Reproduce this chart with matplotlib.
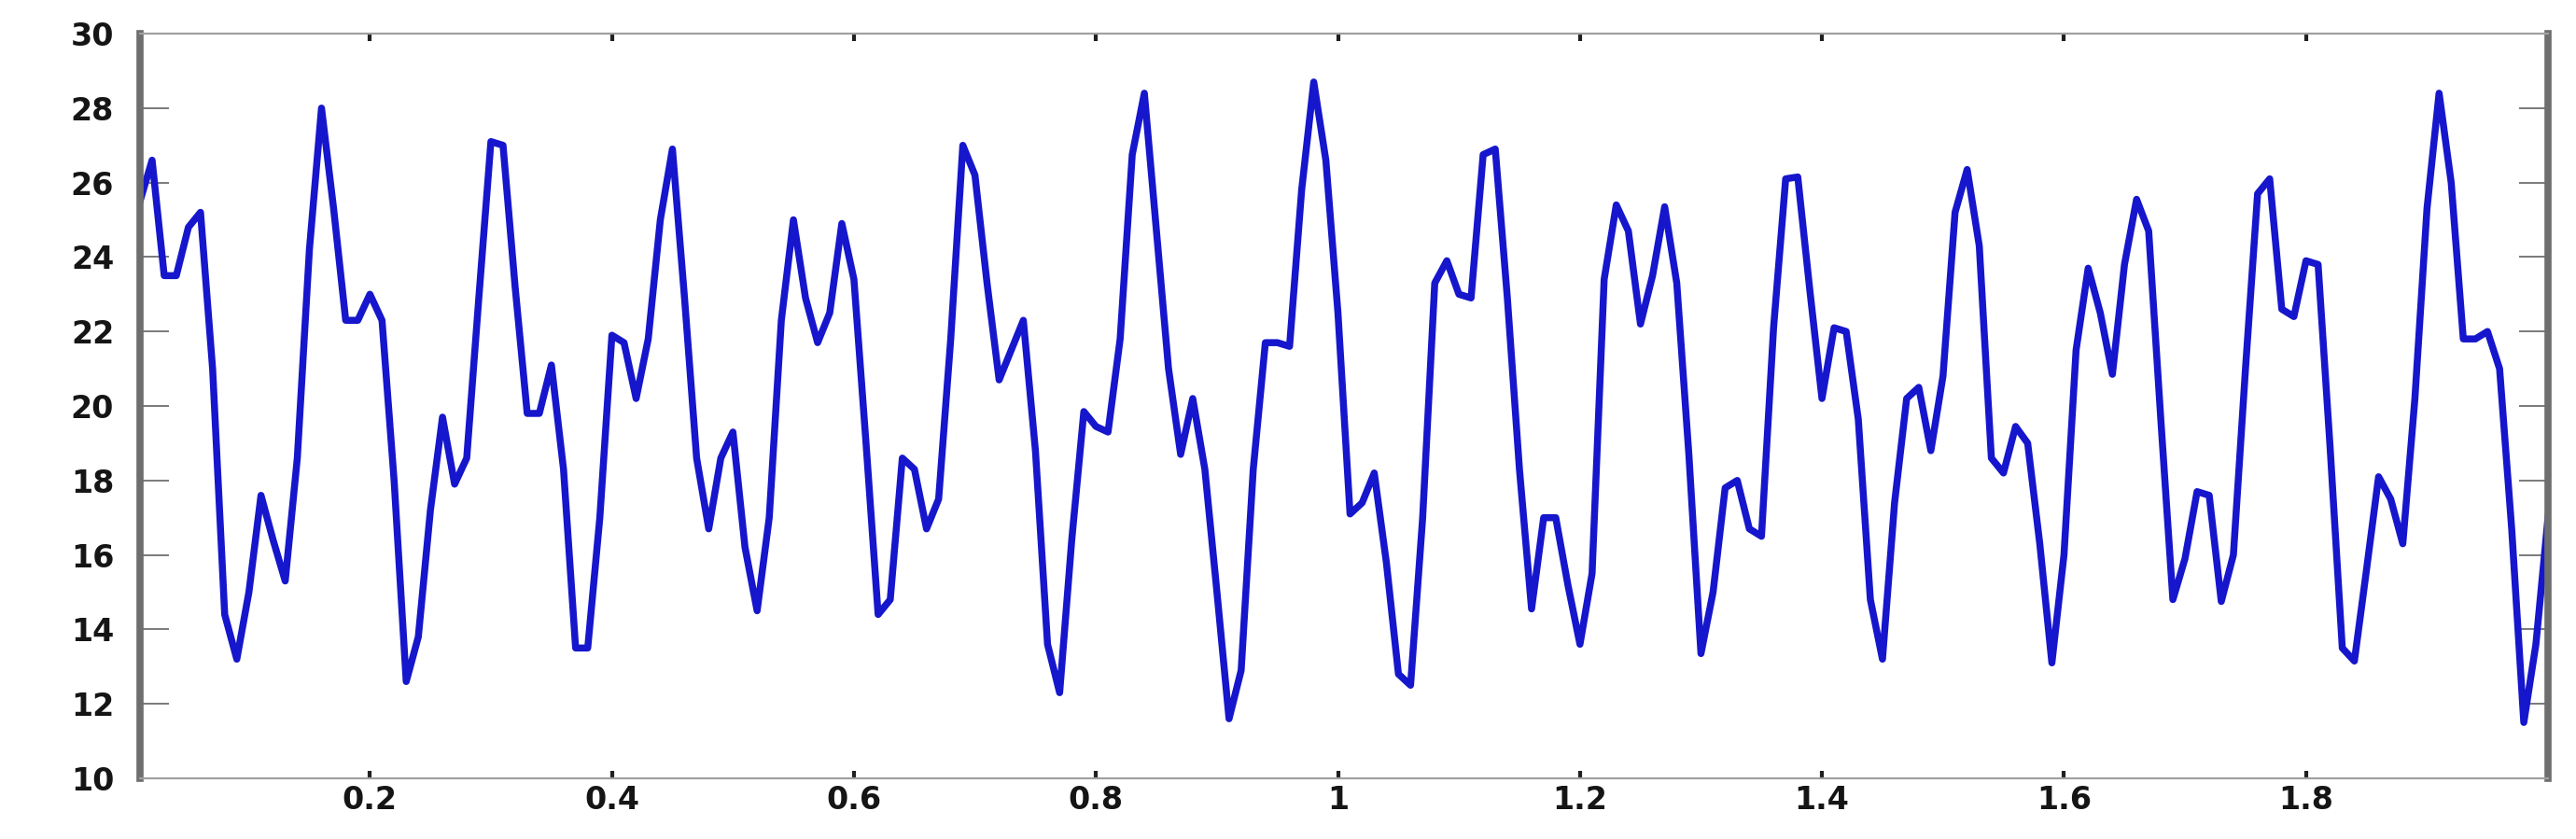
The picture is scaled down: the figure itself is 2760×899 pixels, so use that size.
import numpy as np
import matplotlib
matplotlib.use("Agg")
import matplotlib.pyplot as plt

t = np.arange(1, 201) / 100.0
signal = [
    25.5, 26.6, 23.5, 23.5, 24.8, 25.2, 21.0, 14.4, 13.2, 15.0,
    17.6, 16.4, 15.3, 18.6, 24.2, 28.0, 25.3, 22.3, 22.3, 23.0,
    22.3, 18.0, 12.6, 13.8, 17.2, 19.7, 17.9, 18.6, 22.9, 27.1,
    27.0, 23.2, 19.8, 19.8, 21.1, 18.3, 13.5, 13.5, 17.0, 21.9,
    21.7, 20.2, 21.8, 25.0, 26.9, 22.9, 18.6, 16.7, 18.6, 19.3,
    16.2, 14.5, 17.0, 22.3, 25.0, 22.9, 21.7, 22.5, 24.9, 23.4,
    19.0, 14.4, 14.8, 18.6, 18.3, 16.7, 17.5, 21.8, 27.0, 26.2,
    23.3, 20.7, 21.5, 22.3, 18.8, 13.6, 12.3, 16.4, 19.85, 19.45,
    19.3, 21.8, 26.75, 28.4, 24.7, 21.0, 18.7, 20.2, 18.3, 15.0,
    11.6, 12.9, 18.3, 21.7, 21.7, 21.6, 25.8, 28.7, 26.6, 22.5,
    17.1, 17.4, 18.2, 15.8, 12.8, 12.5, 17.0, 23.3, 23.9, 23.0,
    22.9, 26.75, 26.9, 22.9, 18.3, 14.55, 17.0, 17.0, 15.2, 13.6,
    15.5, 23.4, 25.4, 24.7, 22.2, 23.5, 25.35, 23.3, 18.7, 13.35,
    15.0, 17.8, 18.0, 16.7, 16.5, 22.1, 26.1, 26.15, 23.1, 20.2,
    22.1, 22.0, 19.65, 14.8, 13.2, 17.4, 20.2, 20.5, 18.8, 20.8,
    25.2, 26.35, 24.3, 18.6, 18.2, 19.45, 19.0, 16.3, 13.1, 16.0,
    21.5, 23.7, 22.5, 20.85, 23.8, 25.55, 24.7, 19.65, 14.8, 15.9,
    17.7, 17.6, 14.75, 16.0, 21.0, 25.7, 26.1, 22.6, 22.4, 23.9,
    23.8, 18.85, 13.5, 13.15, 15.6, 18.1, 17.5, 16.3, 20.2, 25.3,
    28.4, 26.0, 21.8, 21.8, 22.0, 21.0, 16.7, 11.5, 13.6, 17.0,
]

x_ticks = [0.2, 0.4, 0.6, 0.8, 1.0, 1.2, 1.4, 1.6, 1.8]
x_labels = ["0.2", "0.4", "0.6", "0.8", "1", "1.2", "1.4", "1.6", "1.8"]
y_ticks = [10, 12, 14, 16, 18, 20, 22, 24, 26, 28, 30]

fig = plt.figure(figsize=(27.6, 8.99), dpi=100)
ax = fig.add_axes([150 / 2760, 1 - 834 / 899, (2730 - 150) / 2760, (834 - 36) / 899])

ax.plot(t, signal, color="#1616cc", linewidth=5.4, solid_joinstyle="round")

ax.set_xlim(0.01, 2.0)
ax.set_ylim(10, 30)

ax.set_xticks(x_ticks)
ax.set_xticklabels(x_labels)
ax.set_yticks(y_ticks)
ax.set_yticklabels([str(v) for v in y_ticks])

# matlab-ish frame: heavy grey sides, thin top/bottom
for side in ["left", "right"]:
    ax.spines[side].set_color("#6e6e6e")
    ax.spines[side].set_linewidth(5.5)
for side in ["top", "bottom"]:
    ax.spines[side].set_color("#a0a0a0")
    ax.spines[side].set_linewidth(1.6)

ax.tick_params(axis="y", which="major", direction="in", length=22, width=1.3,
               color="#707070", left=True, right=True, labelleft=True,
               labelright=False, pad=20, labelsize=24)
ax.tick_params(axis="x", which="major", direction="in", length=6, width=3,
               color="#202020", top=True, bottom=True, pad=5, labelsize=24)

for lab in ax.get_xticklabels() + ax.get_yticklabels():
    lab.set_fontweight("bold")
    lab.set_family("DejaVu Sans")
    lab.set_color("#151515")

fig.savefig("out.png", dpi=100, facecolor="white")
